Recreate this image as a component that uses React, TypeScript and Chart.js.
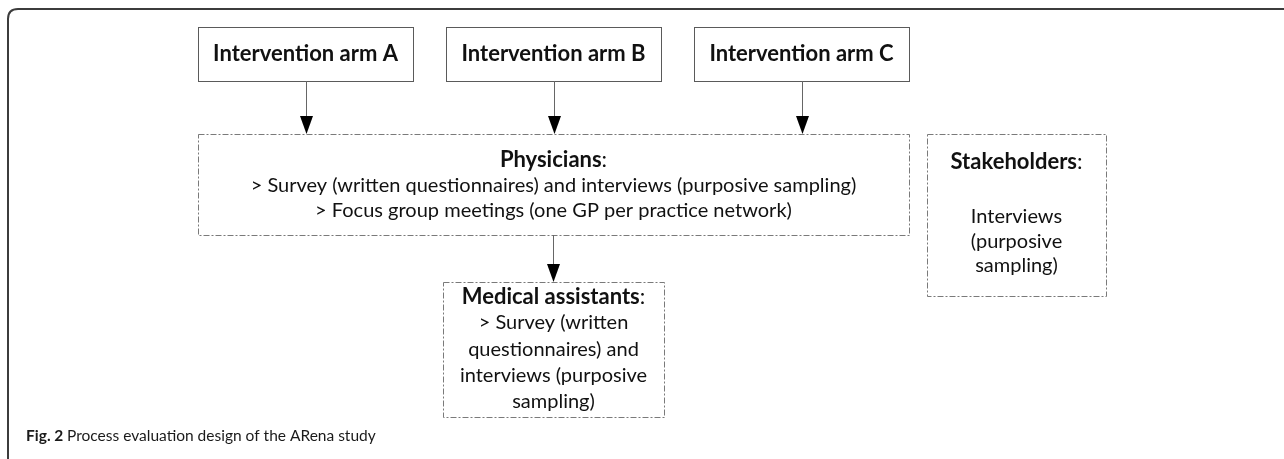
import React, { useEffect, useRef } from "react";
import { Chart, registerables } from "chart.js";

Chart.register(...registerables);

// ---- content ----
const armLabels = ["Intervention arm A", "Intervention arm B", "Intervention arm C"];
const physiciansTitle = "Physicians";
const physiciansLines = [
  "> Survey (written questionnaires) and interviews (purposive sampling)",
  "> Focus group meetings (one GP per practice network)",
];
const assistantsTitle = "Medical assistants";
const assistantsLines = ["> Survey (written", "questionnaires) and", "interviews (purposive", "sampling)"];
const stakeholdersTitle = "Stakeholders";
const stakeholdersLines = ["Interviews", "(purposive", "sampling)"];
const captionBold = "Fig. 2";
const captionText = "Process evaluation design of the ARena study";

// ---- layout (diagram units, mapped through the chart scales) ----
const W = 1284;
const H = 459;
const armX = [[198, 413], [446, 661], [694, 909]];
const armY = [27, 81];
const physBox = { x0: 198, x1: 909, y0: 134, y1: 235 };
const medBox = { x0: 443, x1: 664, y0: 282, y1: 417 };
const stakeBox = { x0: 927, x1: 1106, y0: 134, y1: 296 };

const FONT = "Lato, 'Open Sans', sans-serif";
const BOLD = 22;
const REG = 20;

function drawDiagram(chart: any) {
  const ctx: CanvasRenderingContext2D = chart.ctx;
  const sx = chart.scales.x;
  const sy = chart.scales.y;
  const X = (v: number) => sx.getPixelForValue(v);
  const Y = (v: number) => sy.getPixelForValue(v);

  ctx.save();

  // outer frame (top + left, rounded corner)
  ctx.strokeStyle = "#3c3c3c";
  ctx.lineWidth = 2;
  ctx.beginPath();
  ctx.moveTo(X(8), Y(H));
  ctx.lineTo(X(8), Y(19));
  ctx.quadraticCurveTo(X(8), Y(9), X(18), Y(9));
  ctx.lineTo(X(W), Y(9));
  ctx.stroke();

  // solid boxes
  ctx.lineWidth = 1;
  ctx.strokeStyle = "#5a5a5a";
  ctx.setLineDash([]);
  armX.forEach(([a, b]) => {
    ctx.strokeRect(Math.round(X(a)) + 0.5, Math.round(Y(armY[0])) + 0.5, X(b) - X(a), Y(armY[1]) - Y(armY[0]));
  });

  // dashed boxes
  ctx.strokeStyle = "#7a7a7a";
  ctx.setLineDash([6, 2, 2, 2]);
  [physBox, medBox, stakeBox].forEach((bx) => {
    ctx.strokeRect(Math.round(X(bx.x0)) + 0.5, Math.round(Y(bx.y0)) + 0.5, X(bx.x1) - X(bx.x0), Y(bx.y1) - Y(bx.y0));
  });
  ctx.setLineDash([]);

  // arrows
  const arrow = (x: number, y0: number, y1: number) => {
    const px = Math.round(X(x)) + 0.5;
    const head = 18;
    ctx.strokeStyle = "#666";
    ctx.lineWidth = 1;
    ctx.beginPath();
    ctx.moveTo(px, Y(y0));
    ctx.lineTo(px, Y(y1) - head + 1);
    ctx.stroke();
    ctx.fillStyle = "#000";
    ctx.beginPath();
    ctx.moveTo(px, Y(y1));
    ctx.lineTo(px - 6.5, Y(y1) - head);
    ctx.lineTo(px + 6.5, Y(y1) - head);
    ctx.closePath();
    ctx.fill();
  };
  armX.forEach(([a, b]) => arrow((a + b) / 2, armY[1], physBox.y0));
  arrow((physBox.x0 + physBox.x1) / 2 - 1, physBox.y1, medBox.y0);

  // text helpers
  ctx.fillStyle = "#111";
  ctx.textBaseline = "middle";
  const centered = (t: string, cx: number, cy: number, font: string) => {
    ctx.font = font;
    ctx.textAlign = "center";
    ctx.fillText(t, X(cx), Y(cy));
  };
  const titleColon = (t: string, cx: number, cy: number) => {
    const fb = `bold ${BOLD}px ${FONT}`;
    const fr = `${BOLD}px ${FONT}`;
    ctx.font = fb;
    const w1 = ctx.measureText(t).width;
    ctx.font = fr;
    const w2 = ctx.measureText(":").width;
    const start = X(cx) - (w1 + w2) / 2;
    ctx.textAlign = "left";
    ctx.font = fb;
    ctx.fillText(t, start, Y(cy));
    ctx.font = fr;
    ctx.fillText(":", start + w1, Y(cy));
  };
  const reg = `${REG}px ${FONT}`;

  // arm labels
  armLabels.forEach((t, i) => {
    centered(t, (armX[i][0] + armX[i][1]) / 2, (armY[0] + armY[1]) / 2, `bold ${BOLD}px ${FONT}`);
  });

  // physicians
  const pcx = (physBox.x0 + physBox.x1) / 2;
  titleColon(physiciansTitle, pcx, 160);
  physiciansLines.forEach((t, i) => centered(t, pcx, 186 + i * 24.5, reg));

  // medical assistants
  const mcx = (medBox.x0 + medBox.x1) / 2;
  titleColon(assistantsTitle, mcx, 297);
  assistantsLines.forEach((t, i) => centered(t, mcx, 323 + i * 26.3, reg));

  // stakeholders
  const scx = (stakeBox.x0 + stakeBox.x1) / 2;
  titleColon(stakeholdersTitle, scx, 162);
  stakeholdersLines.forEach((t, i) => centered(t, scx, 217 + i * 24.5, reg));

  // caption
  ctx.textAlign = "left";
  ctx.fillStyle = "#1a1a1a";
  ctx.font = `bold 15.5px ${FONT}`;
  const cw = ctx.measureText(captionBold + " ").width;
  ctx.fillText(captionBold + " ", X(26), Y(436));
  ctx.font = `15.5px ${FONT}`;
  ctx.fillText(captionText, X(26) + cw, Y(436));

  ctx.restore();
}

export default function App() {
  const ref = useRef<HTMLCanvasElement | null>(null);

  useEffect(() => {
    document.body.style.margin = "0";
    document.body.style.background = "#fff";
    if (!ref.current) return;
    const chart = new Chart(ref.current, {
      type: "scatter",
      data: { datasets: [{ data: [], pointRadius: 0 }] },
      options: {
        animation: false,
        responsive: true,
        maintainAspectRatio: false,
        layout: { padding: 0 },
        scales: {
          x: { type: "linear", min: 0, max: W, display: false },
          y: { type: "linear", min: 0, max: H, reverse: true, display: false },
        },
        plugins: { legend: { display: false }, tooltip: { enabled: false } },
        events: [],
      },
      plugins: [{ id: "diagram", afterDraw: drawDiagram }],
    });
    return () => chart.destroy();
  }, []);

  return (
    <div style={{ width: W, height: H, position: "relative", background: "#fff" }}>
      <canvas ref={ref} />
    </div>
  );
}
